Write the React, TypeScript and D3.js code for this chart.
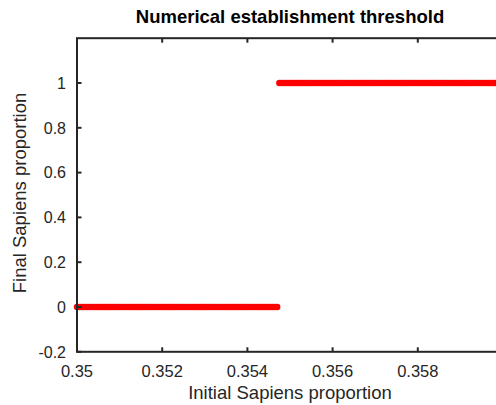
import React from "react";
import * as d3 from "d3";

// Data: initial proportion sampled on a grid; final proportion per segment
const xStart = 0.35;
const xEnd = 0.36;
const xStep = 0.00005;
const threshold = 0.35473; // last x giving 0 is 0.3547, first giving 1 is 0.35475
const lowValue = 0;
const highValue = 1;

const xTicks = [0.35, 0.352, 0.354, 0.356, 0.358];
const xTickLabels = ["0.35", "0.352", "0.354", "0.356", "0.358"];
const yTicks = [-0.2, 0, 0.2, 0.4, 0.6, 0.8, 1];
const yTickLabels = ["-0.2", "0", "0.2", "0.4", "0.6", "0.8", "1"];

const title = "Numerical establishment threshold";
const xLabel = "Initial Sapiens proportion";
const yLabel = "Final Sapiens proportion";

const W = 496;
const H = 405;
const left = 77;
const right = 503;
const top = 38.2;
const bottom = 351.8;
const font = "'Liberation Sans', Arial, Helvetica, sans-serif";
const axisColor = "#262626";

export default function App() {
  const x = d3.scaleLinear().domain([0.35, 0.36]).range([left, right]);
  const y = d3.scaleLinear().domain([-0.2, 1.2]).range([bottom, top]);

  const n = Math.round((xEnd - xStart) / xStep);
  const pts = d3.range(n + 1).map((i) => {
    const xv = xStart + i * xStep;
    return { x: xv, y: xv < threshold ? lowValue : highValue };
  });

  const tickLen = 4.5;

  return (
    <svg
      width={W}
      height={H}
      style={{ position: "absolute", left: 0, top: 0, background: "#fff" }}
    >
      <rect x={0} y={0} width={W} height={H} fill="#fff" />
      {/* data points */}
      <g>
        {pts.map((p, i) => (
          <circle key={i} cx={x(p.x)} cy={y(p.y)} r={3.2} fill="#ff0000" />
        ))}
      </g>
      {/* axes box */}
      <rect
        x={left}
        y={top}
        width={right - left}
        height={bottom - top}
        fill="none"
        stroke={axisColor}
        strokeWidth={2}
      />
      {/* x ticks */}
      {xTicks.map((t, i) => (
        <g key={"xt" + i}>
          <line x1={x(t)} x2={x(t)} y1={bottom} y2={bottom - tickLen} stroke={axisColor} strokeWidth={2} />
          <line x1={x(t)} x2={x(t)} y1={top} y2={top + tickLen} stroke={axisColor} strokeWidth={2} />
          <text
            x={x(t)}
            y={377}
            textAnchor="middle"
            fontFamily={font}
            fontSize={16.5}
            fill={axisColor}
          >
            {xTickLabels[i]}
          </text>
        </g>
      ))}
      {/* y ticks */}
      {yTicks.map((t, i) => (
        <g key={"yt" + i}>
          <line x1={left} x2={left + tickLen} y1={y(t)} y2={y(t)} stroke={axisColor} strokeWidth={2} />
          <line x1={right} x2={right - tickLen} y1={y(t)} y2={y(t)} stroke={axisColor} strokeWidth={2} />
          <text
            x={66}
            y={y(t)}
            dy="0.36em"
            textAnchor="end"
            fontFamily={font}
            fontSize={16}
            fill={axisColor}
          >
            {yTickLabels[i]}
          </text>
        </g>
      ))}
      {/* title */}
      <text
        x={(left + right) / 2}
        y={22.5}
        textAnchor="middle"
        fontFamily={font}
        fontWeight="bold"
        fontSize={18.5}
        fill="#000"
      >
        {title}
      </text>
      {/* x label */}
      <text
        x={(left + right) / 2}
        y={399}
        textAnchor="middle"
        fontFamily={font}
        fontSize={18.5}
        fill={axisColor}
      >
        {xLabel}
      </text>
      {/* y label */}
      <text
        transform={`translate(26,${(top + bottom) / 2 - 2}) rotate(-90)`}
        textAnchor="middle"
        fontFamily={font}
        fontSize={18.5}
        fill={axisColor}
      >
        {yLabel}
      </text>
    </svg>
  );
}
